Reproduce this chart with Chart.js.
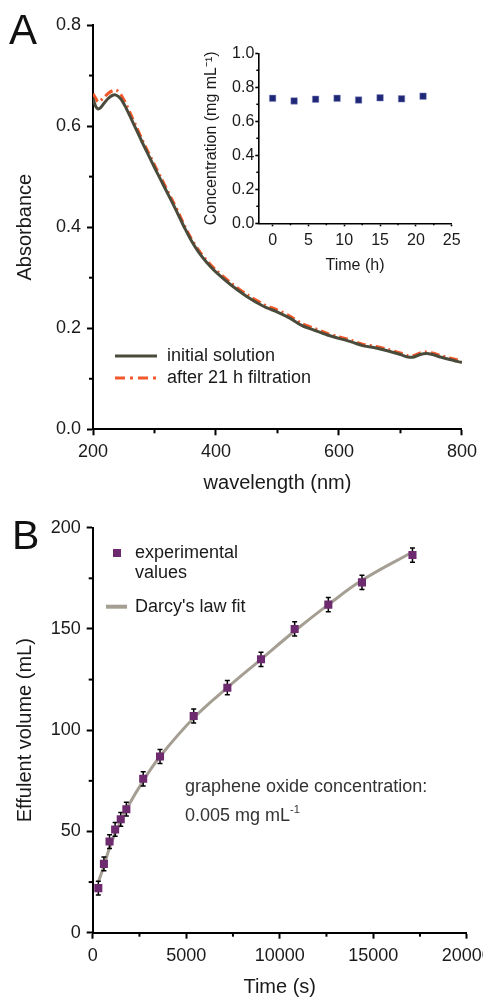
<!DOCTYPE html>
<html>
<head>
<meta charset="utf-8">
<script src="https://cdn.jsdelivr.net/npm/chart.js@4.4.1/dist/chart.umd.min.js"></script>
<style>
  body { margin: 0; background: #fff; }
  #wrap { position: relative; width: 483px; height: 997px; overflow: hidden; background: #fff;
          font-family: "Liberation Sans", Arial, sans-serif; color: #1a1a1a; }
  canvas { position: absolute; }
  .txt { position: absolute; white-space: nowrap; font-size: 18px; line-height: 20px; }
  .panel { position: absolute; font-size: 42px; line-height: 1; color: #111; }
  sup { font-size: 11px; vertical-align: 8px; line-height: 0; }
  svg { position: absolute; overflow: visible; }
</style>
</head>
<body>
<div id="wrap">
  <canvas id="chartA" width="483" height="500" style="left:0;top:0"></canvas>
  <canvas id="chartInset" width="290" height="250" style="left:185px;top:30px"></canvas>
  <canvas id="chartB" width="520" height="497" style="left:0;top:500px"></canvas>

  <div class="panel" style="left:9px;top:9px">A</div>
  <div class="panel" style="left:12px;top:515px;font-size:41px">B</div>

  <!-- legend A -->
  <svg width="50" height="40" style="left:115px;top:346px">
    <line x1="0" y1="10" x2="42" y2="10" stroke="#4b4b3b" stroke-width="3"/>
    <line x1="0" y1="32" x2="42" y2="32" stroke="#f2582a" stroke-width="3" stroke-dasharray="10,5,3,5"/>
  </svg>
  <div class="txt" style="left:167px;top:345px">initial solution</div>
  <div class="txt" style="left:167px;top:367px">after 21 h filtration</div>

  <!-- legend B -->
  <svg width="30" height="70" style="left:104px;top:545px">
    <rect x="9" y="4" width="8" height="8" fill="#6e2a6e"/>
    <line x1="2" y1="61.7" x2="23" y2="61.7" stroke="#a59e93" stroke-width="4"/>
  </svg>
  <div class="txt" style="left:135px;top:542px">experimental</div>
  <div class="txt" style="left:135px;top:562px">values</div>
  <div class="txt" style="left:135px;top:596px">Darcy's law fit</div>

  <div class="txt" style="left:185px;top:776px;color:#333">graphene oxide concentration:</div>
  <div class="txt" style="left:185px;top:805px;color:#333">0.005 mg mL<sup>-1</sup></div>
</div>

<script>
// ---- panel A: UV-vis spectra ----
const wavelength = [200, 204, 208, 212, 218, 225, 232, 238, 245, 252, 260, 270, 280, 290, 300, 310, 320, 330, 340, 350,
  360, 372, 385, 400, 425, 450, 478, 500, 520, 540, 560, 580, 600, 620, 640, 660, 680, 700, 712, 722, 732, 742, 752, 765, 780, 800];
const absInitial = [0.655, 0.640, 0.634, 0.636, 0.645, 0.655, 0.661, 0.661, 0.654, 0.640, 0.620, 0.594, 0.568, 0.543, 0.518, 0.494, 0.470, 0.446, 0.421, 0.396,
  0.373, 0.350, 0.330, 0.311, 0.285, 0.263, 0.243, 0.232, 0.220, 0.205, 0.196, 0.187, 0.180, 0.173, 0.165, 0.161, 0.155, 0.148, 0.143, 0.143, 0.148, 0.150, 0.148, 0.143, 0.138, 0.132];
const absFiltered = [0.664, 0.656, 0.648, 0.650, 0.657, 0.665, 0.670, 0.671, 0.663, 0.648, 0.627, 0.600, 0.573, 0.548, 0.523, 0.499, 0.475, 0.451, 0.426, 0.400,
  0.377, 0.354, 0.334, 0.315, 0.289, 0.267, 0.247, 0.236, 0.224, 0.209, 0.200, 0.190, 0.183, 0.176, 0.168, 0.164, 0.158, 0.151, 0.146, 0.146, 0.151, 0.153, 0.151, 0.146, 0.141, 0.135];
const ticksWavelength = [200, 400, 600, 800];
const minorWavelength = [300, 500, 700];
const ticksAbs = [0, 0.2, 0.4, 0.6, 0.8];
const minorAbs = [0.1, 0.3, 0.5, 0.7];

// ---- inset: concentration vs time ----
const insetTime = [0, 3, 6, 9, 12, 15, 18, 21];
const insetConc = [0.735, 0.720, 0.730, 0.735, 0.725, 0.738, 0.732, 0.748];
const ticksInsetX = [0, 5, 10, 15, 20, 25];
const minorInsetX = [2.5, 7.5, 12.5, 17.5, 22.5];
const ticksInsetY = [0, 0.2, 0.4, 0.6, 0.8, 1.0];
const minorInsetY = [0.1, 0.3, 0.5, 0.7, 0.9];

// ---- panel B: effluent volume ----
const timeS = [300, 600, 900, 1200, 1500, 1800, 2700, 3600, 5400, 7200, 9000, 10800, 12600, 14400, 17100];
const volume = [22, 34, 45, 51, 56, 61, 76, 87, 107, 121, 135, 150, 162, 173, 186.5];
const volumeErr = [3.4, 3.4, 3.4, 3.4, 3.4, 3.4, 3.5, 3.5, 3.5, 3.5, 3.5, 3.5, 3.5, 3.5, 3.5];
const fitTime = [300, 600, 900, 1200, 1500, 1800, 2700, 3600, 5400, 7200, 9000, 10800, 12600, 14400, 17100];
const fitVolume = [25, 33, 42, 49, 55, 61, 75, 87, 106, 121, 135, 149, 162, 174, 188];
const ticksTime = [0, 5000, 10000, 15000, 20000];
const minorTime = [2500, 7500, 12500, 17500];
const ticksVol = [0, 50, 100, 150, 200];
const minorVol = [25, 75, 125, 175];

const FONT = '"Liberation Sans", Arial, sans-serif';
const INK = '#1a1a1a';

// short unlabeled ticks between the labeled ones
const minorTicksPlugin = {
    id: 'minorTicks',
    afterDraw(chart, args, opts) {
        const ctx = chart.ctx;
        ctx.save();
        ctx.strokeStyle = '#000';
        ctx.lineWidth = opts.width || 2;
        const len = opts.len || 4;
        const xs = chart.scales.x, ys = chart.scales.y;
        (opts.x || []).forEach(v => {
            const px = xs.getPixelForValue(v);
            ctx.beginPath();
            ctx.moveTo(px, ys.bottom);
            ctx.lineTo(px, ys.bottom + len);
            ctx.stroke();
        });
        (opts.y || []).forEach(v => {
            const py = ys.getPixelForValue(v);
            ctx.beginPath();
            ctx.moveTo(xs.left, py);
            ctx.lineTo(xs.left - len, py);
            ctx.stroke();
        });
        ctx.restore();
    }
};

// error bars drawn after the fit line but before the squares
const errorBarsPlugin = {
    id: 'errorBars',
    afterDatasetDraw(chart, args, opts) {
        if (!opts.err || args.index !== 1) return;
        const ctx = chart.ctx;
        const xs = chart.scales.x, ys = chart.scales.y;
        ctx.save();
        ctx.strokeStyle = '#000';
        ctx.lineWidth = 1.5;
        timeS.forEach((t, i) => {
            const px = xs.getPixelForValue(t);
            const top = ys.getPixelForValue(volume[i] + opts.err[i]);
            const bot = ys.getPixelForValue(volume[i] - opts.err[i]);
            ctx.beginPath();
            ctx.moveTo(px, top); ctx.lineTo(px, bot);
            ctx.moveTo(px - 2.5, top); ctx.lineTo(px + 2.5, top);
            ctx.moveTo(px - 2.5, bot); ctx.lineTo(px + 2.5, bot);
            ctx.stroke();
        });
        ctx.restore();
    }
};

function axis(cfg) {
    // common look for the black left/bottom axes
    return {
        type: 'linear',
        min: cfg.min,
        max: cfg.max,
        afterBuildTicks: s => { s.ticks = cfg.ticks.map(v => ({ value: v })); },
        afterFit: s => { if (cfg.width) s.width = cfg.width; if (cfg.height) s.height = cfg.height; },
        border: { display: true, color: '#000', width: cfg.lw || 2 },
        grid: { display: true, drawOnChartArea: false, drawTicks: true, tickLength: cfg.tl || 6, tickWidth: cfg.lw || 2, tickColor: '#000' },
        ticks: {
            color: INK,
            padding: cfg.pad,
            maxRotation: 0,
            autoSkip: false,
            font: { family: FONT, size: cfg.fs || 18 },
            callback: cfg.fmt
        },
        title: {
            display: true,
            text: cfg.title,
            color: INK,
            padding: cfg.titlePad,
            font: { family: FONT, size: cfg.tfs || 20, lineHeight: 1 }
        }
    };
}

const baseOptions = {
    responsive: false,
    animation: false,
    devicePixelRatio: 1,
    events: [],
    plugins: { legend: { display: false }, tooltip: { enabled: false } }
};

// Panel A
new Chart(document.getElementById('chartA').getContext('2d'), {
    type: 'line',
    data: {
        datasets: [
            {
                label: 'initial solution',
                data: wavelength.map((w, i) => ({ x: w, y: absInitial[i] })),
                borderColor: '#4b4b3b',
                borderWidth: 3,
                pointRadius: 0,
                tension: 0.3
            },
            {
                label: 'after 21 h filtration',
                data: wavelength.map((w, i) => ({ x: w, y: absFiltered[i] })),
                borderColor: '#f2582a',
                borderWidth: 3,
                borderDash: [9, 4, 2, 4],
                pointRadius: 0,
                tension: 0.3
            }
        ]
    },
    options: {
        ...baseOptions,
        layout: { padding: { left: 0, top: 25, right: 16.3, bottom: 0 } },
        scales: {
            x: axis({ min: 200, max: 800, ticks: ticksWavelength, height: 70.7, pad: 6,
                      title: 'wavelength (nm)', titlePad: { top: 0, bottom: 7 }, fmt: v => String(v) }),
            y: axis({ min: 0, max: 0.8, ticks: ticksAbs, width: 93, pad: 6,
                      title: 'Absorbance', titlePad: { top: 15, bottom: 0 }, fmt: v => v.toFixed(1) })
        },
        plugins: { ...baseOptions.plugins, minorTicks: { x: minorWavelength, y: minorAbs, len: 4 } }
    },
    plugins: [minorTicksPlugin]
});

// Inset
new Chart(document.getElementById('chartInset').getContext('2d'), {
    type: 'scatter',
    data: {
        datasets: [{
            data: insetTime.map((t, i) => ({ x: t, y: insetConc[i] })),
            backgroundColor: '#1f2777',
            borderColor: '#8a90c4',
            borderWidth: 0.5,
            pointStyle: 'rect',
            pointRadius: 4.6
        }]
    },
    options: {
        ...baseOptions,
        layout: { padding: { left: 0, top: 23.3, right: 23.3, bottom: 0 } },
        scales: {
            x: axis({ min: -2, max: 25, ticks: ticksInsetX, height: 56.7, pad: 5, tl: 3, lw: 1.6, fs: 16, tfs: 16,
                      title: 'Time (h)', titlePad: { top: 0, bottom: 6 }, fmt: v => String(v) }),
            y: axis({ min: 0, max: 1, ticks: ticksInsetY, width: 73.3, pad: 1, tl: 3, lw: 1.6, fs: 16, tfs: 16,
                      title: 'Concentration (mg mL\u207B\u00B9)', titlePad: { top: 18.7, bottom: 0 }, fmt: v => v.toFixed(1) })
        },
        plugins: { ...baseOptions.plugins, minorTicks: { x: minorInsetX, y: minorInsetY, len: 2, width: 1.5 } }
    },
    plugins: [minorTicksPlugin]
});

// Panel B
new Chart(document.getElementById('chartB').getContext('2d'), {
    type: 'scatter',
    data: {
        datasets: [
            {
                label: 'experimental values',
                data: timeS.map((t, i) => ({ x: t, y: volume[i] })),
                backgroundColor: '#6e2a6e',
                borderWidth: 0,
                pointStyle: 'rect',
                pointRadius: 5.7
            },
            {
                label: "Darcy's law fit",
                type: 'line',
                data: fitTime.map((t, i) => ({ x: t, y: fitVolume[i] })),
                borderColor: '#a59e93',
                borderWidth: 3,
                pointRadius: 0,
                showLine: true,
                tension: 0.4
            }
        ]
    },
    options: {
        ...baseOptions,
        layout: { padding: { left: 0, top: 27.7, right: 53.3, bottom: 0 } },
        scales: {
            x: axis({ min: 0, max: 20000, ticks: ticksTime, height: 64.3, pad: 7,
                      title: 'Time (s)', titlePad: { top: 0, bottom: 0 }, fmt: v => String(v) }),
            y: axis({ min: 0, max: 200, ticks: ticksVol, width: 92.7, pad: 6,
                      title: 'Effulent volume (mL)', titlePad: { top: 15, bottom: 0 }, fmt: v => String(v) })
        },
        plugins: { ...baseOptions.plugins,
                   minorTicks: { x: minorTime, y: minorVol, len: 4 },
                   errorBars: { err: volumeErr } }
    },
    plugins: [minorTicksPlugin, errorBarsPlugin]
});
</script>
</body>
</html>
